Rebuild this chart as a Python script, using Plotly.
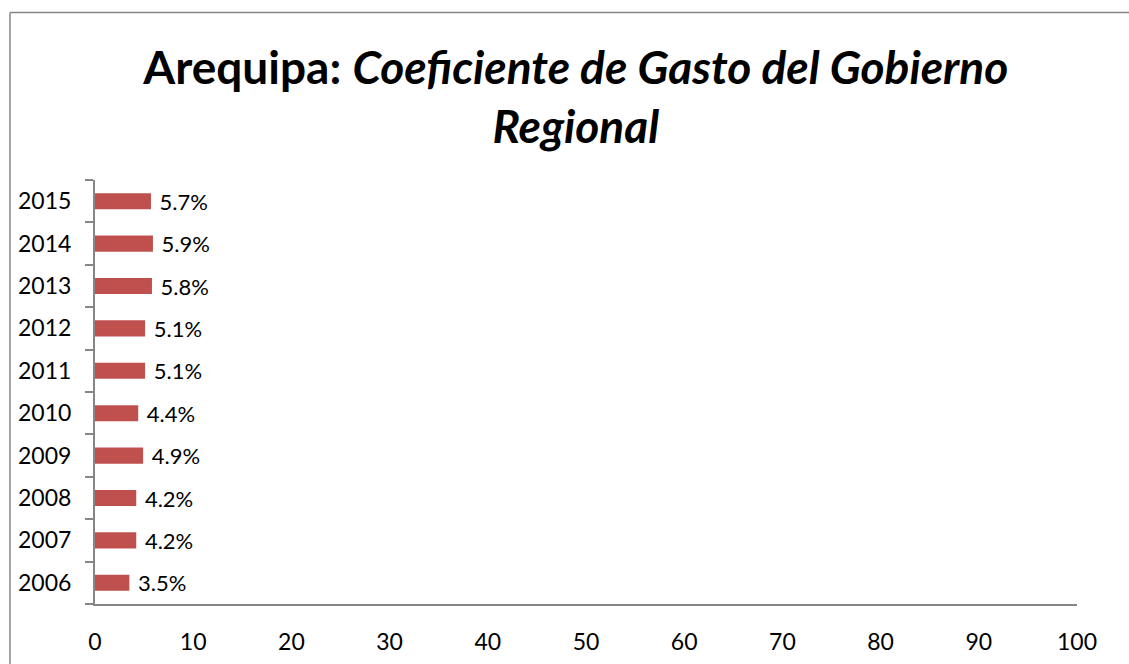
import plotly.graph_objects as go

# Regional government spending coefficient, Arequipa (percent)
years = ["2006", "2007", "2008", "2009", "2010", "2011", "2012", "2013", "2014", "2015"]
coeficiente = [3.5, 4.2, 4.2, 4.9, 4.4, 5.1, 5.1, 5.8, 5.9, 5.7]
x_ticks = [0, 10, 20, 30, 40, 50, 60, 70, 80, 90, 100]

W, H = 1129, 664
ML, MR, MT, MB = 95, 52, 180, 60
FONT = "Lato"
AXIS_GREY = "#868686"

fig = go.Figure(
    go.Bar(
        x=coeficiente,
        y=years,
        orientation="h",
        width=0.38,
        marker=dict(color="#C0504D", line=dict(width=0)),
        text=[f"\u00a0{v}%" for v in coeficiente],
        textposition="outside",
        constraintext="none",
        cliponaxis=False,
        textfont=dict(family=FONT, size=22, color="black"),
    )
)

# chart frame (top and left edges)
pw = W - ML - MR
ph = H - MT - MB
fx = lambda px: (px - ML) / pw
fy = lambda py: (H - MB - py) / ph
fig.add_shape(type="line", xref="paper", yref="paper",
              x0=fx(10), x1=fx(W + 5), y0=fy(12.5), y1=fy(12.5),
              line=dict(color=AXIS_GREY, width=1.5))
fig.add_shape(type="line", xref="paper", yref="paper",
              x0=fx(10), x1=fx(10), y0=fy(12.5), y1=fy(H + 5),
              line=dict(color=AXIS_GREY, width=1.5))

fig.update_layout(
    width=W,
    height=H,
    margin=dict(l=ML, r=MR, t=MT, b=MB),
    paper_bgcolor="white",
    plot_bgcolor="white",
    showlegend=False,
    font=dict(family=FONT, color="black"),
    title=dict(
        text="<b>Arequipa: <i>Coeficiente de Gasto del Gobierno<br>Regional</i></b>",
        x=0.51,
        xanchor="center",
        y=0.874,
        yanchor="top",
        font=dict(family=FONT, size=46, color="black"),
    ),
    xaxis=dict(
        range=[0, 100],
        tickvals=x_ticks,
        ticktext=[str(t) for t in x_ticks],
        showgrid=False,
        zeroline=False,
        showline=True,
        linecolor=AXIS_GREY,
        linewidth=2,
        ticks="",
        ticklabelstandoff=16,
        tickfont=dict(family=FONT, size=23),
        automargin=False,
    ),
    yaxis=dict(
        type="category",
        categoryorder="array",
        categoryarray=years,
        range=[-0.5, 9.5],
        showgrid=False,
        zeroline=False,
        showline=True,
        linecolor=AXIS_GREY,
        linewidth=2,
        ticks="outside",
        tickson="boundaries",
        ticklen=8,
        tickcolor=AXIS_GREY,
        tickwidth=1.5,
        ticklabelstandoff=17,
        tickfont=dict(family=FONT, size=23),
        automargin=False,
    ),
)

fig.write_html("out.html")
